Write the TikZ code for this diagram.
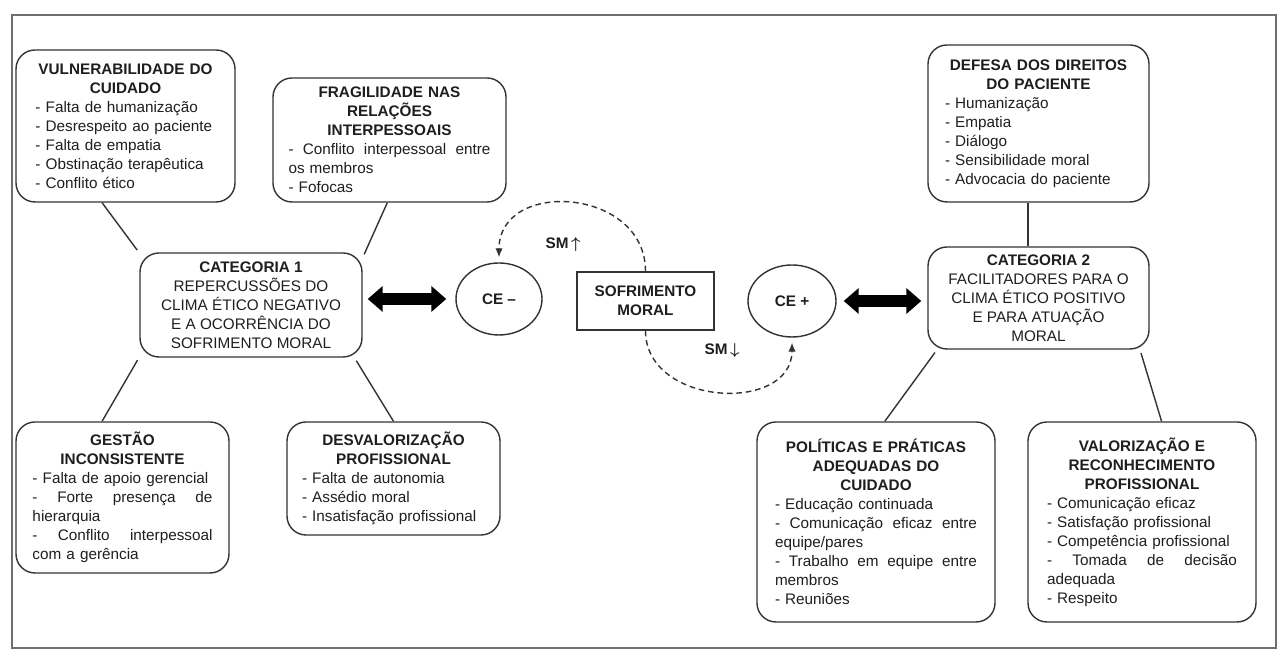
\documentclass[tikz,border=0pt]{standalone}
\usepackage{fontspec}
\setmainfont{Liberation Sans}
\usetikzlibrary{shapes.geometric,arrows.meta}
\setlength{\parindent}{0pt}
\hyphenpenalty=10000
\exhyphenpenalty=10000
\definecolor{inkline}{HTML}{333333}
\definecolor{inktext}{HTML}{1E1E1E}
\definecolor{framegray}{HTML}{6E6E6E}
\newcommand{\boxhead}[1]{{\centering\bfseries #1\par}}
\newcommand{\jline}[1]{\hbox to\hsize{#1}\par}

\begin{document}
\begin{tikzpicture}[
    font=\fontsize{8.7pt}{10.8pt}\selectfont,
    every node/.style={text=inktext},
    listbox/.style={
      draw=inkline,
      line width=0.8pt,
      rounded corners=0.38cm,
      align=left,
      inner sep=2pt
    },
    catbox/.style={
      draw=inkline,
      line width=0.8pt,
      rounded corners=0.38cm,
      align=center,
      inner sep=2pt
    },
    ceoval/.style={
      ellipse,
      draw=inkline,
      line width=0.8pt,
      inner sep=0pt,
      font=\fontsize{8.7pt}{10.8pt}\selectfont\bfseries
    },
    link/.style={draw=inkline, line width=0.8pt},
    dblarrow/.style={
      line width=0.24cm,
      {Triangle[length=0.3cm,width=0.5cm]}-{Triangle[length=0.3cm,width=0.5cm]}
    },
    smarc/.style={
      draw=inkline,
      line width=0.8pt,
      dash pattern=on 3.2pt off 2.2pt,
      -{Latex[length=1.8mm,width=1.5mm]}
    }
  ]

  \useasboundingbox (0, 0) rectangle (25.6, 13);
  \draw[framegray, line width=1pt] (0.24, 0.04) rectangle (25.52, 12.7);

  \node[listbox, text width=3.6cm, minimum width=4.38cm, minimum height=3.04cm] (vuln) at (2.51, 10.48) {%
    \boxhead{VULNERABILIDADE DO\\CUIDADO}
    - Falta de humanização\par
    - Desrespeito ao paciente\par
    - Falta de empatia\par
    - Obstinação terapêutica\par
    - Conflito ético};
  \node[listbox, text width=4.04cm, minimum width=4.66cm, minimum height=2.48cm] (frag) at (7.79, 10.2) {%
    \boxhead{FRAGILIDADE NAS\\RELAÇÕES\\INTERPESSOAIS}
    \jline{-\hfill Conflito\hfill interpessoal\hfill entre}
    os membros\par
    - Fofocas};
  \node[listbox, text width=3.74cm, minimum width=4.42cm, minimum height=3.14cm] (defesa) at (20.77, 10.53) {%
    \boxhead{DEFESA DOS DIREITOS\\DO PACIENTE}
    - Humanização\par
    - Empatia\par
    - Diálogo\par
    - Sensibilidade moral\par
    - Advocacia do paciente};

  \node[catbox, minimum width=4.44cm, minimum height=2.08cm] (cat1) at (5.02, 6.9)
    {\textbf{CATEGORIA 1}\\REPERCUSSÕES DO\\CLIMA ÉTICO NEGATIVO\\E A OCORRÊNCIA DO\\SOFRIMENTO MORAL};
  \node[ceoval, minimum width=1.72cm, minimum height=1.44cm] (ceneg) at (9.98, 7.02) {CE –};
  \node[draw=inkline, line width=0.8pt, align=center, font=\fontsize{8.7pt}{10.8pt}\selectfont\bfseries,
    minimum width=2.74cm, minimum height=1.16cm] (sofr) at (12.91, 6.98) {SOFRIMENTO\\MORAL};
  \node[ceoval, minimum width=1.76cm, minimum height=1.44cm] (cepos) at (15.84, 6.98) {CE +};
  \node[catbox, minimum width=4.42cm, minimum height=2.04cm] (cat2) at (20.77, 7.04)
    {\textbf{CATEGORIA 2}\\FACILITADORES PARA O\\CLIMA ÉTICO POSITIVO\\E PARA ATUAÇÃO\\MORAL};

  \node (smup) at (11.26, 8.1) {\textbf{SM}\,{\boldmath$\uparrow$}};
  \node (smdown) at (14.44, 5.98) {\textbf{SM}\,{\boldmath$\downarrow$}};

  \node[listbox, text width=3.6cm, minimum width=4.26cm, minimum height=3.02cm] (gestao) at (2.45, 3.05) {%
    \boxhead{GESTÃO\\INCONSISTENTE}
    - Falta de apoio gerencial\par
    \jline{-\hfill Forte\hfill presença\hfill de}
    hierarquia\par
    \jline{-\hfill Conflito\hfill interpessoal}
    com a gerência};
  \node[listbox, text width=3.66cm, minimum width=4.26cm, minimum height=2.26cm] (desval) at (7.87, 3.43) {%
    \boxhead{DESVALORIZAÇÃO\\PROFISSIONAL}
    - Falta de autonomia\par
    - Assédio moral\par
    - Insatisfação profissional};
  \node[listbox, text width=4.04cm, minimum width=4.76cm, minimum height=4cm] (politicas) at (17.52, 2.56) {%
    \boxhead{POLÍTICAS E PRÁTICAS\\ADEQUADAS DO\\CUIDADO}
    - Educação continuada\par
    \jline{-\hfill Comunicação\hfill eficaz\hfill entre}
    equipe/pares\par
    \jline{-\hfill Trabalho\hfill em\hfill equipe\hfill entre}
    membros\par
    - Reuniões};
  \node[listbox, text width=3.8cm, minimum width=4.56cm, minimum height=4cm] (valoriz) at (22.84, 2.56) {%
    \boxhead{VALORIZAÇÃO E\\RECONHECIMENTO\\PROFISSIONAL}
    - Comunicação eficaz\par
    - Satisfação profissional\par
    - Competência profissional\par
    \jline{-\hfill Tomada\hfill de\hfill decisão}
    adequada\par
    - Respeito};

  \draw[link, shorten >=2pt] (vuln.253) -- (cat1.155);
  \draw[link, shorten >=2pt] (frag.268) -- (cat1.23);
  \draw[link, shorten >=2pt] (gestao.105) -- (cat1.205);
  \draw[link, shorten >=2pt] (desval.north) -- (cat1.333);
  \draw[link] ([xshift=-0.21cm]defesa.south) -- ([xshift=-0.21cm]cat2.north);
  \draw[link, shorten <=2pt] (cat2.207) -- (politicas.85);
  \draw[link, shorten <=2pt] (cat2.333) -- (valoriz.79);

  \draw[dblarrow, shorten <=0.1cm, shorten >=0.18cm] (cat1.east |- ceneg.west) -- (ceneg.west);
  \draw[dblarrow, shorten <=0.14cm, shorten >=0.12cm] (cepos.east) -- (cat2.west |- cepos.east);

  \draw[smarc, shorten >=0.1cm] (sofr.north) .. controls +(0, 1.68) and +(0, 1.68) .. (ceneg.north);
  \draw[smarc, shorten >=0.1cm] (sofr.south) .. controls +(0, -1.52) and +(0, -1.52) .. (cepos.south);

\end{tikzpicture}
\end{document}
